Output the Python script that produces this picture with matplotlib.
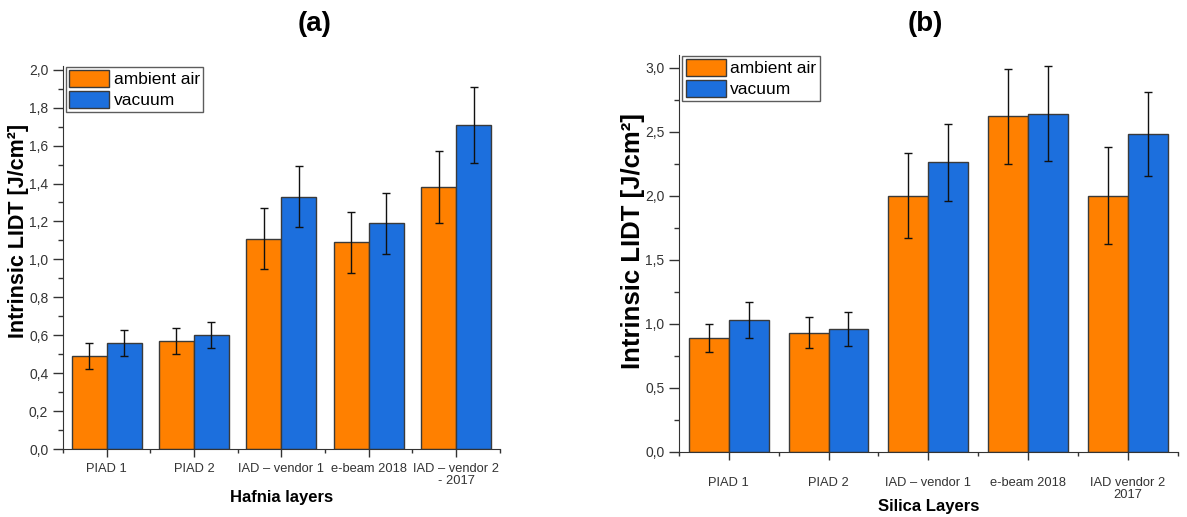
import matplotlib
matplotlib.use("Agg")
import matplotlib.pyplot as plt
import numpy as np
from matplotlib.ticker import MultipleLocator, FuncFormatter, FixedLocator

plt.rcParams['font.family'] = ['Liberation Sans', 'DejaVu Sans']

# Hafnia layers (a)
hf_labels = ["PIAD 1", "PIAD 2", "IAD \u2013 vendor 1", "e-beam 2018", "IAD \u2013 vendor 2\n- 2017"]
hf_air = [0.49, 0.57, 1.11, 1.09, 1.38]
hf_air_err = [0.07, 0.07, 0.16, 0.16, 0.19]
hf_vac = [0.56, 0.60, 1.33, 1.19, 1.71]
hf_vac_err = [0.07, 0.07, 0.16, 0.16, 0.20]

# Silica layers (b)
si_labels = ["PIAD 1", "PIAD 2", "IAD \u2013 vendor 1", "e-beam 2018", "IAD vendor 2\n2017"]
si_air = [0.89, 0.93, 2.00, 2.62, 2.00]
si_air_err = [0.11, 0.12, 0.33, 0.37, 0.38]
si_vac = [1.03, 0.96, 2.26, 2.64, 2.48]
si_vac_err = [0.14, 0.13, 0.30, 0.37, 0.33]

ORANGE = '#ff8000'
BLUE = '#1c6fdd'
EDGE = '#3a3a3a'

fig = plt.figure(figsize=(11.87, 5.17), dpi=100)
axA = fig.add_axes([0.053, 0.1315, 0.368, 0.741])
axB = fig.add_axes([0.572, 0.126, 0.420, 0.768])

def comma(v, pos):
    return f"{v:.1f}".replace('.', ',')

def draw(ax, labels, air, air_err, vac, vac_err, ymax, major, minor, xpad, ylab_fs):
    x = np.arange(len(labels))
    w = 0.4
    ax.bar(x - w/2, air, w, color=ORANGE, edgecolor=EDGE, linewidth=1.0, label='ambient air', zorder=2)
    ax.bar(x + w/2, vac, w, color=BLUE, edgecolor=EDGE, linewidth=1.0, label='vacuum', zorder=2)
    ax.errorbar(x - w/2, air, yerr=air_err, fmt='none', ecolor='#111111', elinewidth=1.0, capsize=3, capthick=1.0, zorder=3)
    ax.errorbar(x + w/2, vac, yerr=vac_err, fmt='none', ecolor='#111111', elinewidth=1.0, capsize=3, capthick=1.0, zorder=3)
    ax.set_xlim(-0.5, len(labels) - 0.5)
    ax.set_ylim(0, ymax)
    ax.spines['top'].set_visible(False)
    ax.spines['right'].set_visible(False)
    ax.spines['left'].set_color('#333333')
    ax.spines['bottom'].set_color('#333333')
    ax.yaxis.set_major_locator(MultipleLocator(major))
    ax.yaxis.set_minor_locator(MultipleLocator(minor))
    ax.yaxis.set_major_formatter(FuncFormatter(comma))
    ax.set_xticks(x)
    ax.set_xticklabels(labels, fontsize=9.3, color='#333333', linespacing=1.05)
    ax.xaxis.set_minor_locator(FixedLocator(np.arange(-0.5, len(labels), 1.0)))
    ax.tick_params(axis='y', which='major', direction='out', length=7, width=1, colors='#333333', labelsize=10)
    ax.tick_params(axis='y', which='minor', direction='out', length=3.5, width=1, colors='#333333')
    ax.tick_params(axis='x', which='major', direction='out', length=6, width=1, colors='#333333', pad=xpad)
    ax.tick_params(axis='x', which='minor', direction='out', length=3, width=1, colors='#333333')
    ax.set_ylabel("Intrinsic LIDT [J/cm\u00b2]", fontsize=ylab_fs, fontweight='bold')
    leg = ax.legend(loc='upper left', bbox_to_anchor=(0.005, 1.0), fontsize=12.5, frameon=True, fancybox=False,
                    edgecolor='#333333', handlelength=2.3, handleheight=1.1, borderpad=0.2,
                    labelspacing=0.2, handletextpad=0.25, borderaxespad=0.05)
    leg.get_frame().set_linewidth(1.0)

draw(axA, hf_labels, hf_air, hf_air_err, hf_vac, hf_vac_err, 2.02, 0.2, 0.1, 4, 15.5)
draw(axB, si_labels, si_air, si_air_err, si_vac, si_vac_err, 3.1, 0.5, 0.25, 12, 18.5)

axA.set_xlabel("Hafnia layers", fontsize=12, fontweight='bold', labelpad=2)
axB.set_xlabel("Silica Layers", fontsize=12, fontweight='bold')
axB.xaxis.set_label_coords(0.5, -0.118)

axA.yaxis.set_label_coords(-0.078, 0.57)
axB.yaxis.set_label_coords(-0.068, 0.53)

fig.text(315 / 1187, 1 - 24 / 517, "(a)", fontsize=20, fontweight='bold', ha='center', va='center')
fig.text(925 / 1187, 1 - 24 / 517, "(b)", fontsize=20, fontweight='bold', ha='center', va='center')

fig.savefig("out.png", dpi=100)
